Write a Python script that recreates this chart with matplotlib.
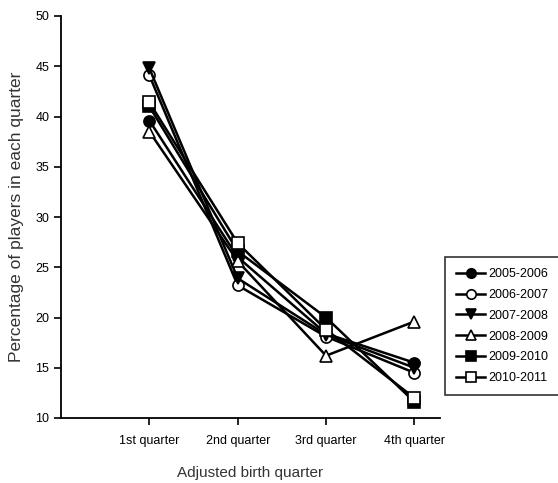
import matplotlib
matplotlib.use("Agg")
import matplotlib.pyplot as plt

plt.rcParams["font.family"] = ["Liberation Sans", "DejaVu Sans"]

quarters = ["1st quarter", "2nd quarter", "3rd quarter", "4th quarter"]
seasons = ["2005-2006", "2006-2007", "2007-2008", "2008-2009", "2009-2010", "2010-2011"]

s2005 = [39.6, 26.0, 18.4, 15.5]
s2006 = [44.1, 23.2, 18.1, 14.5]
s2007 = [44.8, 23.9, 18.3, 15.0]
s2008 = [38.5, 25.6, 16.2, 19.6]
s2009 = [41.0, 26.6, 20.0, 11.6]
s2010 = [41.4, 27.4, 18.8, 12.0]

series = [s2005, s2006, s2007, s2008, s2009, s2010]
markers = ["o", "o", "v", "^", "s", "s"]
faces = ["black", "white", "black", "white", "black", "white"]

fig = plt.figure(figsize=(5.58, 4.83), dpi=100)
ax = fig.add_axes([61 / 558, 1 - 418 / 483, (440 - 61) / 558, (418 - 16) / 483])

x = list(range(len(quarters)))
for name, vals, m, fc in zip(seasons, series, markers, faces):
    ax.plot(x, vals, color="black", lw=1.8, marker=m, markersize=8,
            markerfacecolor=fc, markeredgecolor="black", markeredgewidth=1.2,
            label=name)

ax.set_xlim(-1, 3.29)
ax.set_ylim(10, 50)
ax.set_yticks(range(10, 51, 5))
ax.set_xticks(x)
ax.set_xticklabels(quarters)
ax.tick_params(direction="out", length=5, width=1.2, labelsize=9, colors="black")
ax.tick_params(axis="x", pad=7)
for side in ["top", "right"]:
    ax.spines[side].set_visible(False)
for side in ["left", "bottom"]:
    ax.spines[side].set_linewidth(1.3)

ax.set_xlabel("Adjusted birth quarter", fontsize=11, color="#333333", labelpad=14)
ax.set_ylabel("Percentage of players in each quarter", fontsize=12.5, color="#333333", labelpad=8)

leg = fig.legend(loc="upper left", bbox_to_anchor=(445 / 558, 1 - 257 / 483),
                 frameon=True, fancybox=False, fontsize=9, handlelength=2.3,
                 borderpad=0.9, borderaxespad=0, labelspacing=0.7,
                 handletextpad=0.3, markerscale=0.85)
leg.get_frame().set_edgecolor("black")
leg.get_frame().set_linewidth(1.2)

fig.savefig("out.png", dpi=100)
